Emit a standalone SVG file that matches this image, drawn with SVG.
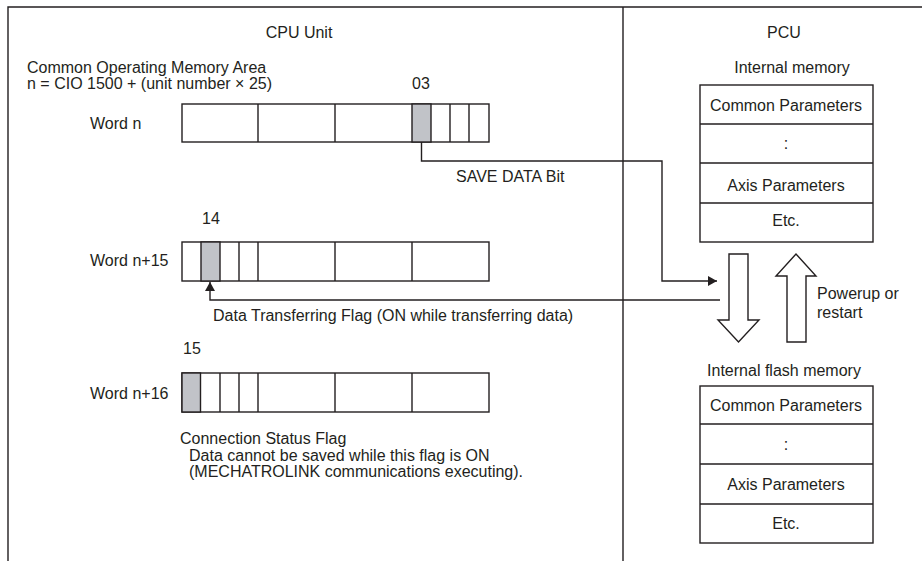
<svg xmlns="http://www.w3.org/2000/svg" width="922" height="561" viewBox="0 0 922 561">
<style>
text{font-family:"Liberation Sans",Arial,sans-serif;font-size:16px;fill:#231f20}
.m{text-anchor:middle}
.ln{fill:none;stroke:#231f20;stroke-width:1.4}
.box{fill:#fff;stroke:#231f20;stroke-width:1.4}
.g{fill:#c1c3c8;stroke:#231f20;stroke-width:1.4}
</style>
<defs>
<marker id="ah" markerWidth="10" markerHeight="10" refX="9" refY="5" orient="auto" markerUnits="userSpaceOnUse">
<path d="M0,0 L9,5 L0,10 Z" fill="#231f20"/>
</marker>
</defs>
<rect width="922" height="561" fill="#fff"/>
<g id="frame">
<path class="ln" d="M8,561 V7 H922 M623,7 V561"/>
<text class="m" x="299" y="38">CPU Unit</text>
<text class="m" x="784" y="38">PCU</text>
</g>
<g id="header">
<text x="27" y="73">Common Operating Memory Area</text>
<text x="27" y="89">n = CIO 1500 + (unit number × 25)</text>
</g>
<g id="word-n">
<text x="90" y="129">Word n</text>
<text x="412" y="89">03</text>
<rect class="box" x="182" y="104" width="307" height="38"/>
<rect class="g" x="412" y="104" width="19" height="38"/>
<path class="ln" d="M258,104 V142 M335,104 V142 M450,104 V142 M469,104 V142"/>
</g>
<g id="word-n15">
<text x="90" y="266">Word n+15</text>
<text x="202" y="224">14</text>
<rect class="box" x="182" y="242" width="307" height="39"/>
<rect class="g" x="201" y="242" width="19" height="39"/>
<path class="ln" d="M239,242 V281 M258,242 V281 M335,242 V281 M412,242 V281"/>
</g>
<g id="word-n16">
<text x="90" y="399">Word n+16</text>
<text x="183" y="354">15</text>
<rect class="box" x="182" y="373" width="307" height="39"/>
<rect class="g" x="182" y="373" width="18.5" height="39"/>
<path class="ln" d="M220,373 V412 M239,373 V412 M258,373 V412 M335,373 V412 M412,373 V412"/>
<text x="180" y="444">Connection Status Flag</text>
<text x="189" y="461">Data cannot be saved while this flag is ON</text>
<text x="189" y="477">(MECHATROLINK communications executing).</text>
</g>
<g id="internal-memory">
<text class="m" x="792" y="73">Internal memory</text>
<rect class="box" x="700" y="85" width="173" height="157"/>
<path class="ln" d="M700,124 H873 M700,163 H873 M700,203 H873"/>
<text class="m" x="786" y="111">Common Parameters</text>
<text class="m" x="786" y="149">:</text>
<text class="m" x="786" y="191">Axis Parameters</text>
<text class="m" x="786" y="226">Etc.</text>
</g>
<g id="flash-memory">
<text class="m" x="784" y="376">Internal flash memory</text>
<rect class="box" x="700" y="386" width="173" height="157"/>
<path class="ln" d="M700,424 H873 M700,464 H873 M700,504 H873"/>
<text class="m" x="786" y="411">Common Parameters</text>
<text class="m" x="786" y="450">:</text>
<text class="m" x="786" y="490">Axis Parameters</text>
<text class="m" x="786" y="529">Etc.</text>
</g>
<g id="save-arrow">
<path class="box" d="M729,254 H748 V320 H759 L738.5,342 L718,320 H729 Z"/>
</g>
<g id="load-arrow">
<path class="box" d="M787,342 H806 V276 H816 L796,254 L776,276 H787 Z"/>
<text x="817" y="299">Powerup or</text>
<text x="817" y="318">restart</text>
</g>
<g id="connectors">
<path class="ln" d="M421.5,142 V161 H662 V281 H717" marker-end="url(#ah)"/>
<path class="ln" d="M720,300 H210 V282" marker-end="url(#ah)"/>
<text x="456" y="182">SAVE DATA Bit</text>
<text x="213" y="321">Data Transferring Flag (ON while transferring data)</text>
</g>
</svg>
